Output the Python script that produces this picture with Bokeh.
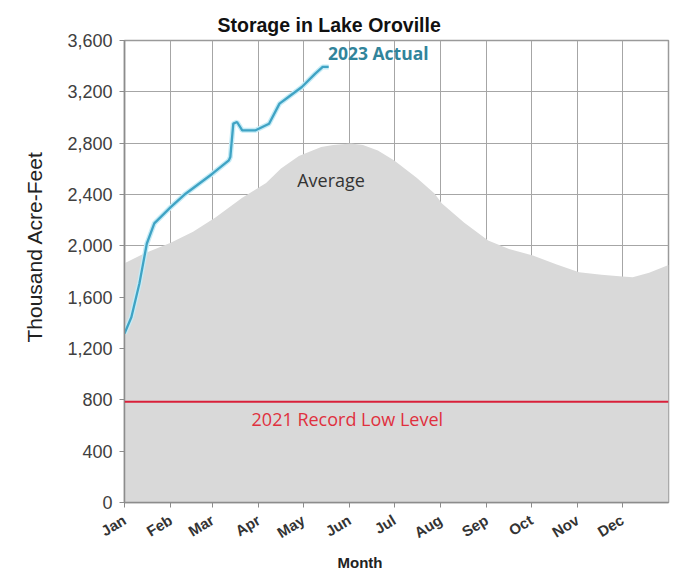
import math
from bokeh.plotting import figure
from bokeh.models import FixedTicker, NumeralTickFormatter, Range1d, Span, Label, ColumnDataSource, Title
from bokeh.embed import file_html
from bokeh.resources import INLINE

# ---- data ----
months = ["Jan", "Feb", "Mar", "Apr", "May", "Jun", "Jul", "Aug", "Sep", "Oct", "Nov", "Dec"]
month_start_day = [0, 31, 59, 90, 120, 151, 181, 212, 243, 273, 304, 334]
y_ticks = [0, 400, 800, 1200, 1600, 2000, 2400, 2800, 3200, 3600]

avg_day = [0, 14, 31, 46, 61, 79, 95, 105, 117, 132, 140, 152, 160, 170, 181, 196, 208, 213,
           228, 244, 258, 274, 290, 305, 320, 334, 341, 352, 365]
avg_storage = [1865, 1945, 2025, 2110, 2220, 2375, 2490, 2603, 2700, 2770, 2785, 2798, 2785,
               2743, 2665, 2530, 2408, 2330, 2180, 2042, 1975, 1925, 1855, 1795, 1775, 1761,
               1755, 1790, 1850]

actual_day = [0, 4.6, 10, 15, 20, 31, 41, 59, 70, 71, 73, 75.5, 79, 88, 97, 104, 110, 119,
              128, 133, 137]
actual_storage = [1317, 1444, 1707, 2018, 2175, 2302, 2406, 2562, 2666, 2692, 2952, 2965,
                  2900, 2900, 2952, 3108, 3160, 3238, 3342, 3394, 3394]

record_low = 785

# ---- figure ----
p = figure(width=675, height=575, output_backend="svg", toolbar_location=None,
           x_range=Range1d(0, 365), y_range=Range1d(0, 3600),
           min_border_left=124, min_border_right=7, min_border_top=40, min_border_bottom=73,
           title="Storage in Lake Oroville")
p.title.align = "left"
p.title.offset = 93
p.title.text_font = "Liberation Sans"
p.title.text_font_size = "19.5px"
p.title.text_font_style = "bold"
p.title.text_color = "#111111"

p.background_fill_color = "white"
p.border_fill_color = "white"
p.outline_line_color = "#9a9a9a"
p.outline_line_width = 1.5

# grids
p.xgrid.ticker = FixedTicker(ticks=month_start_day)
p.ygrid.ticker = FixedTicker(ticks=y_ticks)
for g in (p.xgrid, p.ygrid):
    g.grid_line_color = "#a6a6a6"
    g.grid_line_width = 1

# axes
p.xaxis.ticker = FixedTicker(ticks=month_start_day)
p.xaxis.major_label_overrides = {d: m for d, m in zip(month_start_day, months)}
p.xaxis.major_label_orientation = 0.55
p.yaxis.ticker = FixedTicker(ticks=y_ticks)
p.yaxis.formatter = NumeralTickFormatter(format="0,0")
for ax in (p.xaxis, p.yaxis):
    ax.axis_line_color = "#8c8c8c"
    ax.axis_line_width = 1.5
    ax.major_tick_line_color = "#8c8c8c"
    ax.major_tick_out = 5
    ax.major_tick_in = 0
    ax.minor_tick_line_color = None
    ax.major_label_text_font = "Liberation Sans"
    ax.major_label_text_color = "#404040"
p.yaxis.major_label_text_font_size = "18px"
p.xaxis.major_label_text_font_size = "15px"
p.xaxis.major_label_text_font_style = "bold"
p.xaxis.major_label_text_color = "#333333"
p.xaxis.major_label_standoff = 11
p.yaxis.major_label_standoff = 7

# y-axis title (sits a little above the frame centre, as in the original)
p.add_layout(Title(text="Thousand Acre-Feet", align="left", offset=160,
                   text_font="Liberation Sans", text_font_size="21px",
                   text_font_style="normal", text_color="#222222", standoff=38), "left")
# x-axis title (left of the frame centre, as in the original)
p.add_layout(Title(text="Month", align="left", offset=213,
                   text_font="Liberation Sans", text_font_size="15px",
                   text_font_style="bold", text_color="#222222", standoff=0), "below")

# average area
avg_src = ColumnDataSource(dict(x=avg_day, y=avg_storage))
p.varea(x="x", y1=0, y2="y", source=avg_src, fill_color="#d9d9d9", fill_alpha=1.0)

# record low
p.add_layout(Span(location=record_low, dimension="width", line_color="#d9203a", line_width=2))

# 2023 actual
act_src = ColumnDataSource(dict(x=actual_day, y=actual_storage))
p.line(x="x", y="y", source=act_src, line_color="#c4ebf6", line_width=5)
p.line(x="x", y="y", source=act_src, line_color="#3fa3c4", line_width=2.3)

# annotations
p.add_layout(Label(x=136.5, y=3500, text="2023 Actual", text_font="Open Sans",
                   text_font_size="17.5px", text_font_style="bold", text_color="#31849b",
                   text_baseline="middle", text_align="left"))
p.add_layout(Label(x=138.6, y=2510, text="Average", text_font="Open Sans",
                   text_font_size="18px", text_color="#333333",
                   text_baseline="middle", text_align="center"))
p.add_layout(Label(x=149.5, y=647, text="2021 Record Low Level", text_font="Open Sans",
                   text_font_size="18px", text_color="#e0303e",
                   text_baseline="middle", text_align="center"))

open("out.html", "w").write(file_html(p, INLINE))
